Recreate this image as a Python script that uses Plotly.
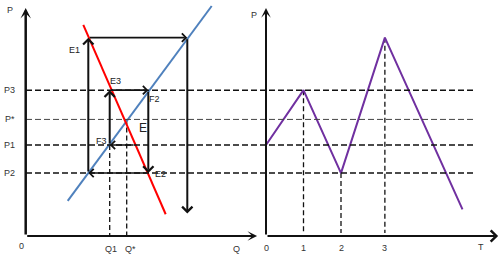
import plotly.graph_objects as go

# ---------------- data ----------------
# price levels
P2, P1, P_STAR, P3, P_E1 = 2.17, 3.14, 4.02, 5.03, 6.84
price_levels = [P3, P_STAR, P1, P2]
price_labels = ["P3", "P*", "P1", "P2"]

# quantities
Q_E1, Q1, Q_STAR, Q_D_P1, Q_F2, Q_TOP = 3.13, 4.2, 5.05, 5.47, 6.13, 8.08
P_TOP_END = 0.78

# supply (blue) and demand (red) lines
supply_q = [2.1, 9.3]
supply_p = [1.21, 7.93]
demand_q = [2.88, 7.0]
demand_p = [7.28, 0.75]

# cobweb path (consecutive points joined by arrows)
path_q = [Q_D_P1, Q1, Q1, Q_F2, Q_F2, Q_E1, Q_E1, Q_TOP, Q_TOP]
path_p = [P1, P1, P3, P3, P2, P2, P_E1, P_E1, P_TOP_END]

# point labels on the left diagram
point_text = ["E1", "E3", "F2", "E", "F3", "E2"]
point_q = [Q_E1, Q1, Q_F2, Q_STAR, Q1, Q_F2]
point_p = [P_E1, P3, P3, P_STAR, P1, P2]

# price path over time (right diagram)
period_t = [0, 1, 2, 3.17, 5.24]
period_p = [P1, P3, P2, P_E1, 0.92]
period_labels = ["0", "1", "2", "3"]

# axis extents
Q_AXIS_END, P_AXIS_END, T_AXIS_END = 11.57, 7.86, 6.19

# ---------------- figure ----------------
fig = go.Figure()
BLACK = "#111111"
FONT = dict(family="Liberation Sans", size=9, color="#333333")

# vertical dashed guides (left)
for q, p in [(Q1, P1), (Q_STAR, P_STAR)]:
    fig.add_trace(go.Scatter(x=[q, q], y=[p, 0], mode="lines", xaxis="x", yaxis="y",
                             line=dict(color=BLACK, width=1.3, dash="5px,3px"),
                             hoverinfo="skip", showlegend=False))
# vertical dashed guides (right)
for t, p in zip(period_t[1:4], period_p[1:4]):
    fig.add_trace(go.Scatter(x=[t, t], y=[p, 0.1], mode="lines", xaxis="x2", yaxis="y",
                             line=dict(color=BLACK, width=1.3, dash="5px,3px"),
                             hoverinfo="skip", showlegend=False))

# supply & demand
fig.add_trace(go.Scatter(x=supply_q, y=supply_p, mode="lines", xaxis="x", yaxis="y",
                         line=dict(color="#4F81BD", width=2), hoverinfo="skip", showlegend=False))
fig.add_trace(go.Scatter(x=demand_q, y=demand_p, mode="lines", xaxis="x", yaxis="y",
                         line=dict(color="#FF0000", width=2), hoverinfo="skip", showlegend=False))

# price path
fig.add_trace(go.Scatter(x=period_t, y=period_p, mode="lines", xaxis="x2", yaxis="y",
                         line=dict(color="#7030A0", width=2), hoverinfo="skip", showlegend=False))

# horizontal dashed price lines spanning both diagrams
for p in price_levels:
    thin = p == P_STAR
    fig.add_shape(type="line", xref="paper", yref="y", x0=0.052, x1=0.946, y0=p, y1=p,
                  line=dict(color="#444444" if thin else BLACK, width=1 if thin else 1.5,
                            dash="6px,3px"))

ann = []
# axes with arrows
def axis_arrow(xr, x0, y0, x1, y1, width, head=3, size=0.8):
    ann.append(dict(xref=xr, yref="y", axref=xr, ayref="y", x=x1, y=y1, ax=x0, ay=y0,
                    text="", showarrow=True, arrowhead=head, arrowsize=size,
                    arrowwidth=width, arrowcolor=BLACK, standoff=0))

axis_arrow("x", 0, 0, 0, P_AXIS_END, 2.5, size=0.7)
axis_arrow("x", 0, 0, Q_AXIS_END, 0, 2)
axis_arrow("x2", 0, 0, 0, P_AXIS_END, 2)
axis_arrow("x2", 0, 0, T_AXIS_END, 0, 2, head=4, size=1.1)

# cobweb arrows
for i in range(len(path_q) - 1):
    vertical = path_q[i] == path_q[i + 1]
    ann.append(dict(xref="x", yref="y", axref="x", ayref="y",
                    x=path_q[i + 1], y=path_p[i + 1], ax=path_q[i], ay=path_p[i],
                    text="", showarrow=True, arrowhead=4, arrowsize=1.0,
                    arrowwidth=2 if vertical else 1.6, arrowcolor=BLACK, standoff=0))

# price labels (left)
for p, lab in zip(price_levels, price_labels):
    ann.append(dict(xref="x", yref="y", x=0, y=p, xshift=-16, text=lab,
                    showarrow=False, font=FONT))
ann.append(dict(xref="x", yref="y", x=0, y=P_AXIS_END, xshift=-16, yshift=-2, text="P",
                showarrow=False, font=FONT))
ann.append(dict(xref="x", yref="y", x=0, y=0, xshift=-4, yshift=-10, text="0",
                showarrow=False, font=FONT))
ann.append(dict(xref="x", yref="y", x=Q1, y=0, xshift=1, yshift=-13, text="Q1",
                showarrow=False, font=FONT))
ann.append(dict(xref="x", yref="y", x=Q_STAR, y=0, xshift=4, yshift=-13, text="Q*",
                showarrow=False, font=FONT))
ann.append(dict(xref="x", yref="y", x=10.52, y=0, yshift=-13, text="Q",
                showarrow=False, font=FONT))

# point labels
shifts = [(-14, -12), (6, 9), (6, -9), (16, -9), (-8, 4), (12, -1)]
for t, q, p, (dx, dy) in zip(point_text, point_q, point_p, shifts):
    f = dict(FONT, size=12 if t == "E" else 9, color="#222222")
    ann.append(dict(xref="x", yref="y", x=q, y=p, xshift=dx, yshift=dy, text=t,
                    showarrow=False, font=f))

# right diagram labels
ann.append(dict(xref="x2", yref="y", x=0, y=P_AXIS_END, xshift=-12, yshift=-7, text="P",
                showarrow=False, font=FONT))
for t, lab in zip(period_t[:4], period_labels):
    ann.append(dict(xref="x2", yref="y", x=t, y=0, yshift=-12, text=lab,
                    showarrow=False, font=FONT))
ann.append(dict(xref="x2", yref="y", x=5.72, y=0, yshift=-11, text="T",
                showarrow=False, font=FONT))

fig.update_layout(
    width=500, height=265, margin=dict(l=0, r=0, t=0, b=0),
    paper_bgcolor="white", plot_bgcolor="white", showlegend=False,
    xaxis=dict(domain=[0, 0.52], range=[-1.285, 11.715], visible=False, fixedrange=True),
    xaxis2=dict(domain=[0.52, 1], range=[-0.16, 6.24], visible=False, anchor="y",
                fixedrange=True),
    yaxis=dict(domain=[0, 1], range=[-1.0, 8.138], visible=False, fixedrange=True),
    annotations=ann,
)

fig.write_html("out.html")
